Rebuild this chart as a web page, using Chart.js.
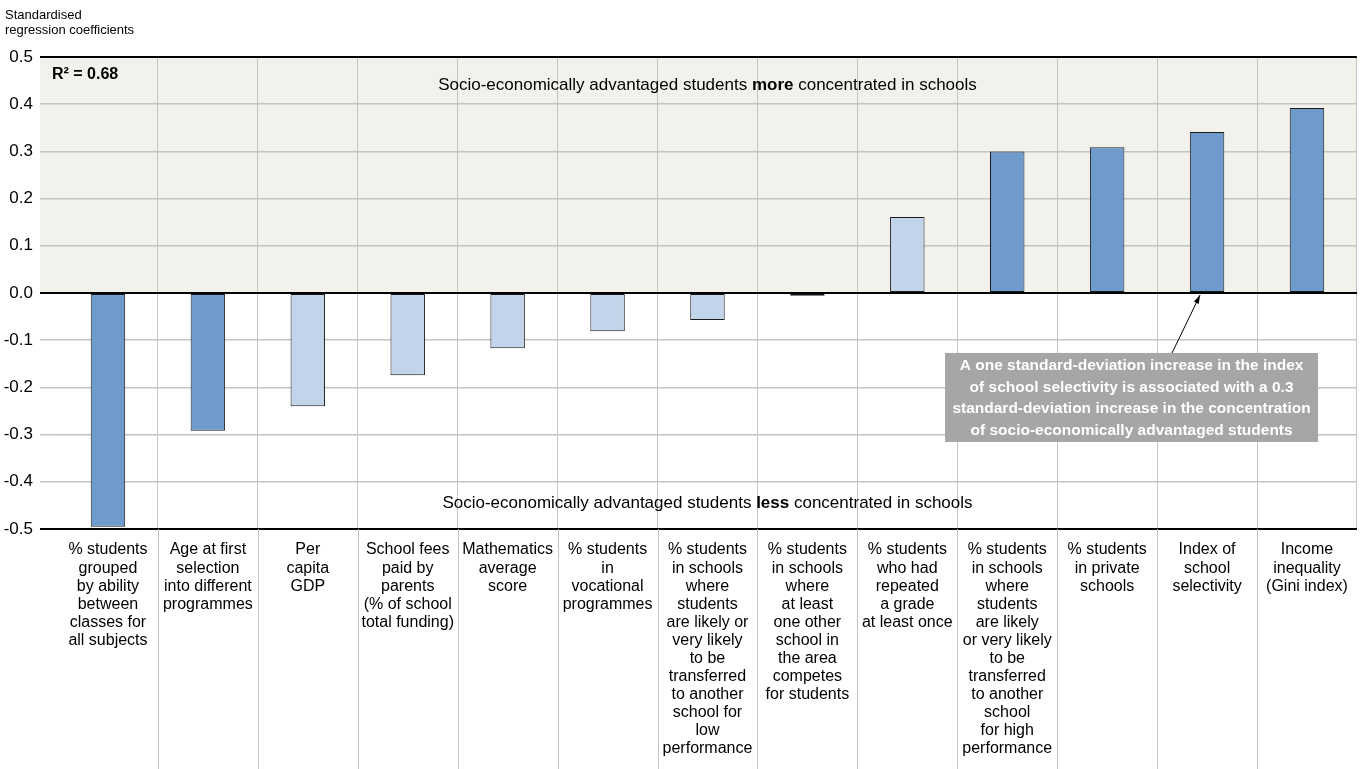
<!DOCTYPE html>
<html>
<head>
<meta charset="utf-8">
<script src="https://cdn.jsdelivr.net/npm/chart.js@4.4.1/dist/chart.umd.min.js"></script>
<style>
  html, body { margin: 0; padding: 0; background: #fff; }
  #wrap { width: 1360px; height: 769px; position: relative; }
</style>
</head>
<body>
<div id="wrap"><canvas id="chart" width="1360" height="769"></canvas></div>
<script>
const FONT = '"Liberation Sans Narrow", "Arial Narrow", "Liberation Sans", Arial, sans-serif';

const categories = [
    ['% students', 'grouped', 'by ability', 'between', 'classes for', 'all subjects'],
    ['Age at first', 'selection', 'into different', 'programmes'],
    ['Per', 'capita', 'GDP'],
    ['School fees', 'paid by', 'parents', '(% of school', 'total funding)'],
    ['Mathematics', 'average', 'score'],
    ['% students', 'in', 'vocational', 'programmes'],
    ['% students', 'in schools', 'where', 'students', 'are likely or', 'very likely', 'to be', 'transferred', 'to another', 'school for', 'low', 'performance'],
    ['% students', 'in schools', 'where', 'at least', 'one other', 'school in', 'the area', 'competes', 'for students'],
    ['% students', 'who had', 'repeated', 'a grade', 'at least once'],
    ['% students', 'in schools', 'where', 'students', 'are likely', 'or very likely', 'to be', 'transferred', 'to another', 'school', 'for high', 'performance'],
    ['% students', 'in private', 'schools'],
    ['Index of', 'school', 'selectivity'],
    ['Income', 'inequality', '(Gini index)']
];
const coefficients = [-0.495, -0.292, -0.240, -0.174, -0.117, -0.081, -0.057, -0.006, 0.161, 0.300, 0.309, 0.341, 0.392];
const significant = [true, true, false, false, false, false, false, false, false, true, true, true, true];

const yTitle = ['Standardised', 'regression coefficients'];
const rSquared = 'R² = 0.68';
const calloutLines = [
    'A one standard-deviation increase in the index',
    'of school selectivity is associated with a 0.3',
    'standard-deviation increase in the concentration',
    'of socio-economically advantaged students'
];
const calloutIndex = 11;

const DARK = '#6f9bcc';
const LIGHT = '#c2d4ea';
const GRID = '#c4c4c4';

function drawMixed(ctx, parts, cx, cy, size) {
    // parts: [[text, bold], ...] centred on cx
    let total = 0;
    parts.forEach(p => {
        ctx.font = (p[1] ? 'bold ' : '') + size + 'px ' + FONT;
        total += ctx.measureText(p[0]).width;
    });
    let x = cx - total / 2;
    ctx.textAlign = 'left';
    ctx.textBaseline = 'middle';
    parts.forEach(p => {
        ctx.font = (p[1] ? 'bold ' : '') + size + 'px ' + FONT;
        ctx.fillText(p[0], x, cy);
        x += ctx.measureText(p[0]).width;
    });
}

const decorPlugin = {
    id: 'decor',
    beforeDraw(chart) {
        const { ctx, chartArea, scales: { y } } = chart;
        ctx.save();
        ctx.fillStyle = '#f2f1eb';
        const top = y.getPixelForValue(0.5);
        const zero = y.getPixelForValue(0);
        const left = chartArea.left - 18;
        ctx.fillRect(left, top, chartArea.right - left, zero - top);
        ctx.restore();
    },
    afterDraw(chart) {
        const { ctx, chartArea, scales: { x, y } } = chart;
        ctx.save();

        // category separators continue down through the label area
        ctx.strokeStyle = GRID;
        ctx.lineWidth = 1;
        for (let i = 1; i < categories.length; i++) {
            const px = Math.round(x.getPixelForValue(i - 0.5)) + 0.5;
            ctx.beginPath();
            ctx.moveTo(px, chartArea.bottom);
            ctx.lineTo(px, chart.height);
            ctx.stroke();
        }

        // axis title
        ctx.fillStyle = '#000';
        ctx.font = '13px ' + FONT;
        ctx.textAlign = 'left';
        ctx.textBaseline = 'middle';
        ctx.fillText(yTitle[0], 5, 15);
        ctx.fillText(yTitle[1], 5, 30);

        // R squared
        ctx.font = 'bold 16px ' + FONT;
        ctx.fillText(rSquared, chartArea.left - 6, y.getPixelForValue(0.462));

        // region labels
        const midX = (chartArea.left + chartArea.right) / 2;
        drawMixed(ctx, [['Socio-economically advantaged students ', false], ['more', true], [' concentrated in schools', false]], midX, y.getPixelForValue(0.44), 17);
        drawMixed(ctx, [['Socio-economically advantaged students ', false], ['less', true], [' concentrated in schools', false]], midX, y.getPixelForValue(-0.445), 17);

        // callout box
        const ax = x.getPixelForValue(calloutIndex) - 7;
        const ay = y.getPixelForValue(0) + 2;
        const bw = 373;
        const bh = 89;
        const bx = ax - 255;
        const by = y.getPixelForValue(-0.127);

        // arrow
        const sx = bx + 227;
        const sy = by;
        ctx.strokeStyle = '#000';
        ctx.lineWidth = 1;
        ctx.beginPath();
        ctx.moveTo(sx, sy);
        ctx.lineTo(ax, ay);
        ctx.stroke();
        const ang = Math.atan2(ay - sy, ax - sx);
        ctx.fillStyle = '#000';
        ctx.beginPath();
        ctx.moveTo(ax, ay);
        ctx.lineTo(ax - 9 * Math.cos(ang - 0.3), ay - 9 * Math.sin(ang - 0.3));
        ctx.lineTo(ax - 9 * Math.cos(ang + 0.3), ay - 9 * Math.sin(ang + 0.3));
        ctx.closePath();
        ctx.fill();

        ctx.fillStyle = '#a6a6a6';
        ctx.fillRect(bx, by, bw, bh);
        ctx.fillStyle = '#fff';
        ctx.font = 'bold 15.5px ' + FONT;
        ctx.textAlign = 'center';
        ctx.textBaseline = 'middle';
        calloutLines.forEach((line, i) => {
            ctx.fillText(line, bx + bw / 2, by + 13 + i * 21.5);
        });

        ctx.restore();
    }
};

new Chart(document.getElementById('chart'), {
    type: 'bar',
    data: {
        labels: categories,
        datasets: [{
            data: coefficients,
            backgroundColor: significant.map(s => (s ? DARK : LIGHT)),
            borderColor: '#1a1a1a',
            borderWidth: 1,
            borderSkipped: false,
            barPercentage: 0.345,
            categoryPercentage: 1
        }]
    },
    options: {
        responsive: false,
        animation: false,
        events: [],
        layout: { padding: { top: 57, right: 3, left: 0, bottom: 0 } },
        plugins: {
            legend: { display: false },
            tooltip: { enabled: false }
        },
        scales: {
            x: {
                offset: true,
                grid: {
                    offset: true,
                    color: ctx => (ctx.index === 0 || ctx.index === categories.length ? 'rgba(0,0,0,0)' : GRID),
                    lineWidth: 1,
                    tickLength: 0,
                    drawTicks: false
                },
                border: { display: false },
                ticks: {
                    autoSkip: false,
                    maxRotation: 0,
                    minRotation: 0,
                    color: '#000',
                    padding: 12,
                    font: { family: FONT, size: 16, lineHeight: 1.13 }
                },
                afterFit(scale) { scale.height = 240; }
            },
            y: {
                min: -0.5,
                max: 0.5,
                grid: {
                    color: ctx => {
                        const v = ctx.tick ? Math.round(ctx.tick.value * 10) : 1;
                        return (v === 0 || v === 5 || v === -5) ? '#000' : GRID;
                    },
                    lineWidth: ctx => {
                        const v = ctx.tick ? Math.round(ctx.tick.value * 10) : 1;
                        return (v === 0 || v === 5 || v === -5) ? 2 : 1.5;
                    },
                    tickLength: 18
                },
                border: { display: false },
                ticks: {
                    stepSize: 0.1,
                    color: '#000',
                    padding: 7,
                    font: { family: FONT, size: 17 },
                    callback: v => (Math.round(v * 10) / 10).toFixed(1)
                },
                afterFit(scale) { scale.width = 58; }
            }
        }
    },
    plugins: [decorPlugin]
});
</script>
</body>
</html>
